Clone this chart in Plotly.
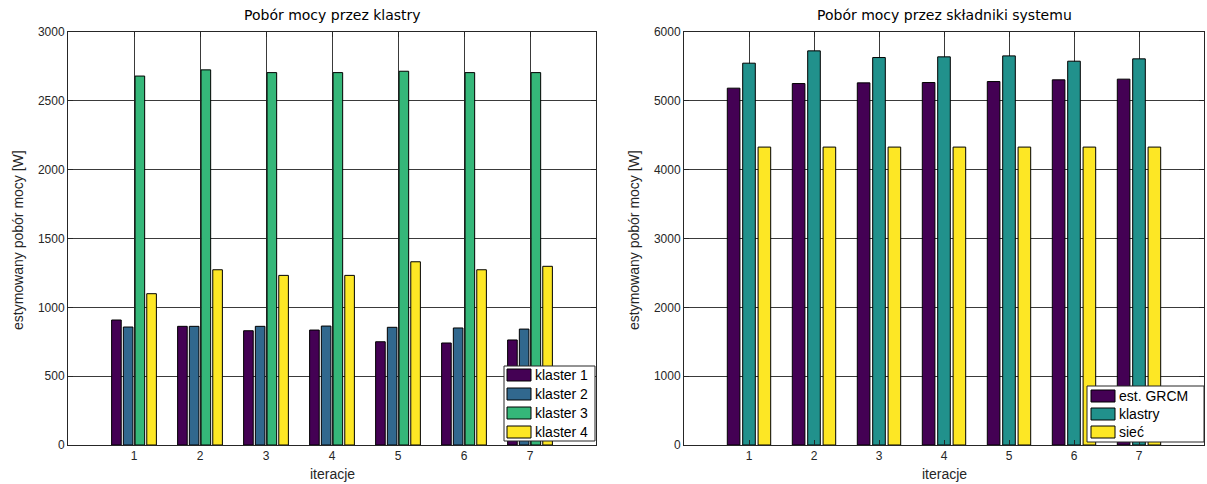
import plotly.graph_objects as go

iterations = [1, 2, 3, 4, 5, 6, 7]
x_ticks = [1, 2, 3, 4, 5, 6, 7]

# Left chart: power per cluster
klaster1 = [908, 862, 830, 835, 750, 741, 763]
klaster2 = [857, 862, 862, 864, 855, 850, 842]
klaster3 = [2680, 2725, 2705, 2705, 2715, 2705, 2705]
klaster4 = [1099, 1273, 1232, 1232, 1331, 1273, 1298]
left_names = ["klaster 1", "klaster 2", "klaster 3", "klaster 4"]
left_colors = ["#440154", "#31688e", "#35b779", "#fde725"]

# Right chart: power per system component
grcm = [5184, 5251, 5261, 5266, 5280, 5305, 5315]
klastry = [5547, 5726, 5629, 5639, 5653, 5576, 5610]
siec = [4328, 4328, 4328, 4328, 4328, 4328, 4328]
right_names = ["est. GRCM", "klastry", "sieć"]
right_colors = ["#440154", "#21918c", "#fde725"]

left_yticks = [0, 500, 1000, 1500, 2000, 2500, 3000]
right_yticks = [0, 1000, 2000, 3000, 4000, 5000, 6000]

W, H = 1207, 484
fig = go.Figure()

for name, vals, col in zip(left_names, [klaster1, klaster2, klaster3, klaster4], left_colors):
    fig.add_trace(go.Bar(x=iterations, y=vals, name=name, marker=dict(color=col, line=dict(color="black", width=1)),
                         xaxis="x", yaxis="y", offsetgroup=name, showlegend=False))

for name, vals, col in zip(right_names, [grcm, klastry, siec], right_colors):
    fig.add_trace(go.Bar(x=iterations, y=vals, name=name, marker=dict(color=col, line=dict(color="black", width=1)),
                         xaxis="x2", yaxis="y2", offsetgroup=name, showlegend=False))

tickfont = dict(family="Liberation Sans, Arial, sans-serif", size=12, color="#262626")
grid_col = "#3a3a3a"

def xax(domain, anchor):
    return dict(domain=domain, anchor=anchor, range=[0, 8], tickvals=x_ticks, ticks="inside", ticklen=5,
                tickcolor="#262626", showgrid=True, gridcolor=grid_col, gridwidth=1, showline=True,
                linecolor="#262626", linewidth=1, mirror="ticks", zeroline=False, tickfont=tickfont,
                automargin=False)

def yax(domain, anchor, rng, tv):
    return dict(domain=domain, anchor=anchor, range=rng, tickvals=tv, ticks="inside", ticklen=5,
                tickcolor="#262626", showgrid=True, gridcolor=grid_col, gridwidth=1, showline=True,
                linecolor="#262626", linewidth=1, mirror="ticks", zeroline=False, tickfont=tickfont,
                automargin=False)

ydom = [1 - 445 / H, 1 - 32 / H]
xdom1 = [68 / W, 596 / W]
xdom2 = [684 / W, 1204 / W]

fig.update_layout(
    width=W, height=H, margin=dict(l=0, r=0, t=0, b=0, autoexpand=False),
    plot_bgcolor="white", paper_bgcolor="white",
    barmode="group", bargap=0.29, bargroupgap=0.18,
    xaxis=xax(xdom1, "y"), yaxis=yax(ydom, "x", [0, 3000], left_yticks),
    xaxis2=xax(xdom2, "y2"), yaxis2=yax(ydom, "x2", [0, 6000], right_yticks),
    showlegend=False,
)

title_font = dict(family="DejaVu Sans, sans-serif", size=14, color="black")
label_font = dict(family="Liberation Sans, Arial, sans-serif", size=14, color="#262626")
legend_font = dict(family="Liberation Sans, Arial, sans-serif", size=14, color="black")
ymid = 1 - 240 / H
annotations = [
    dict(text="Pobór mocy przez klastry", x=(68 + 596) / 2 / W, y=1 - 15 / H, xref="paper", yref="paper",
         showarrow=False, font=title_font, xanchor="center", yanchor="middle"),
    dict(text="Pobór mocy przez składniki systemu", x=(684 + 1204) / 2 / W, y=1 - 15 / H, xref="paper",
         yref="paper", showarrow=False, font=title_font, xanchor="center", yanchor="middle"),
    dict(text="estymowany pobór mocy [W]", x=18 / W, y=ymid, xref="paper", yref="paper", textangle=-90,
         showarrow=False, font=label_font, xanchor="center", yanchor="middle"),
    dict(text="estymowany pobór mocy [W]", x=634 / W, y=ymid, xref="paper", yref="paper", textangle=-90,
         showarrow=False, font=label_font, xanchor="center", yanchor="middle"),
    dict(text="iteracje", x=(68 + 596) / 2 / W, y=1 - 474 / H, xref="paper", yref="paper",
         showarrow=False, font=label_font, xanchor="center", yanchor="middle"),
    dict(text="iteracje", x=(684 + 1204) / 2 / W, y=1 - 474 / H, xref="paper", yref="paper",
         showarrow=False, font=label_font, xanchor="center", yanchor="middle"),
]
shapes = []

def px(x):
    return x / W

def py(y):
    return 1 - y / H

def add_legend(box, names, colors, sw_x0, sw_x1, first_y, step, sw_h):
    x0, y0, x1, y1 = box
    shapes.append(dict(type="rect", xref="paper", yref="paper", x0=px(x0), x1=px(x1), y0=py(y1), y1=py(y0),
                       fillcolor="white", line=dict(color="#262626", width=1), layer="above"))
    for i, (n, c) in enumerate(zip(names, colors)):
        yc = first_y + i * step
        shapes.append(dict(type="rect", xref="paper", yref="paper", x0=px(sw_x0), x1=px(sw_x1),
                           y0=py(yc + sw_h / 2), y1=py(yc - sw_h / 2), fillcolor=c,
                           line=dict(color="black", width=1), layer="above"))
        annotations.append(dict(text=n, x=px(sw_x1 + 2), y=py(yc), xref="paper", yref="paper",
                                showarrow=False, font=legend_font, xanchor="left", yanchor="middle"))

add_legend((504, 366, 595, 441), left_names, left_colors, 507, 531, 375, 19, 12)
add_legend((1087, 386, 1204, 442), right_names, right_colors, 1091, 1115, 396, 18, 12)

fig.update_layout(annotations=annotations, shapes=shapes)

fig.write_html("out.html")
